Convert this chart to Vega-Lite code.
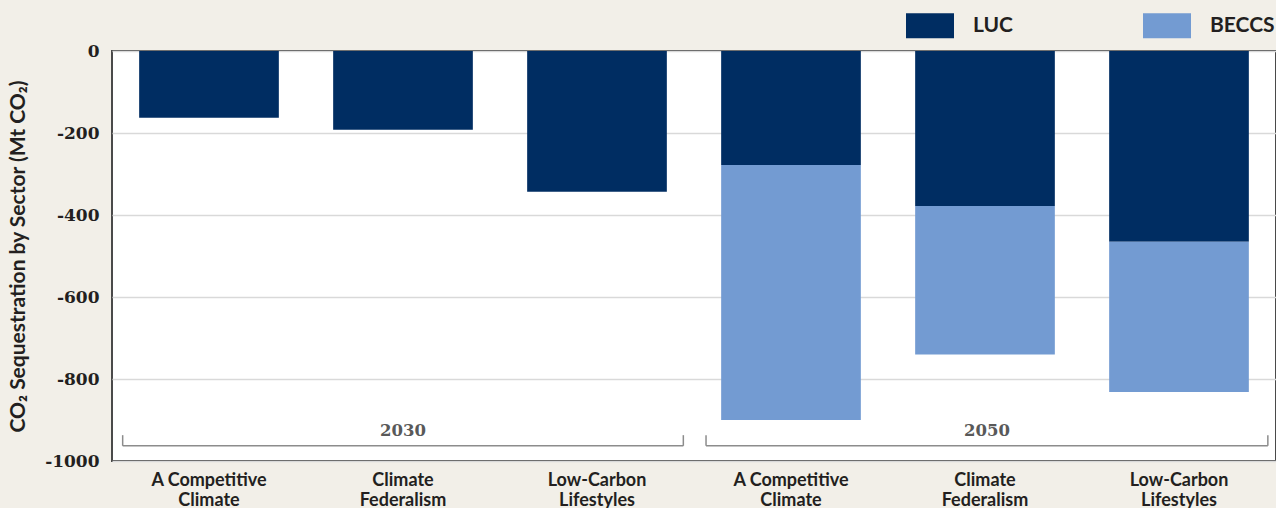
{
  "$schema": "https://vega.github.io/schema/vega-lite/v6.json",
  "autosize": "none",
  "padding": {"left": 112, "top": 51, "right": 0, "bottom": 47},
  "width": 1164,
  "height": 410,
  "background": "#f2efe8",
  "config": {
    "view": {"fill": "#ffffff", "stroke": "#4a4a4a", "strokeWidth": 2},
    "font": "Lato"
  },
  "layer": [
    {
      "data": {
        "values": [
          {"bar": "A Competitive|Climate|2030", "year": "2030", "sector": "LUC", "value": -163},
          {"bar": "Climate|Federalism|2030", "year": "2030", "sector": "LUC", "value": -192},
          {"bar": "Low-Carbon|Lifestyles|2030", "year": "2030", "sector": "LUC", "value": -343},
          {"bar": "A Competitive|Climate|2050", "year": "2050", "sector": "LUC", "value": -278},
          {"bar": "A Competitive|Climate|2050", "year": "2050", "sector": "BECCS", "value": -622},
          {"bar": "Climate|Federalism|2050", "year": "2050", "sector": "LUC", "value": -378},
          {"bar": "Climate|Federalism|2050", "year": "2050", "sector": "BECCS", "value": -362},
          {"bar": "Low-Carbon|Lifestyles|2050", "year": "2050", "sector": "LUC", "value": -465},
          {"bar": "Low-Carbon|Lifestyles|2050", "year": "2050", "sector": "BECCS", "value": -367}
        ]
      },
      "mark": {"type": "bar"},
      "encoding": {
        "x": {
          "field": "bar",
          "type": "nominal",
          "sort": null,
          "scale": {"paddingInner": 0.28, "paddingOuter": 0.14},
          "axis": {
            "title": null,
            "labelAngle": 0,
            "labelExpr": "slice(split(datum.value, '|'), 0, 2)",
            "labelFont": "Lato",
            "labelFontSize": 18,
            "labelFontWeight": "bold",
            "labelColor": "#231f20",
            "labelLineHeight": 20,
            "labelPadding": 10,
            "ticks": false,
            "domain": false
          }
        },
        "y": {
          "field": "value",
          "type": "quantitative",
          "stack": "zero",
          "scale": {"domain": [-1000, 0], "nice": false},
          "axis": {
            "values": [0, -200, -400, -600, -800, -1000],
            "labelExpr": "'' + datum.value",
            "title": "CO₂ Sequestration by Sector (Mt CO₂)",
            "titleFont": "Lato",
            "titleFontSize": 21,
            "titleFontWeight": "bold",
            "titleColor": "#231f20",
            "titlePadding": 16,
            "labelFont": "DejaVu Serif",
            "labelFontSize": 17,
            "labelFontWeight": "bold",
            "labelColor": "#231f20",
            "labelPadding": 13,
            "ticks": false,
            "domain": false,
            "grid": true,
            "gridColor": "#d9d9d9",
            "gridWidth": 1.5
          }
        },
        "color": {
          "field": "sector",
          "type": "nominal",
          "scale": {"domain": ["LUC", "BECCS"], "range": ["#002d62", "#739bd2"]},
          "legend": {
            "orient": "none",
            "legendX": 794,
            "legendY": -49.5,
            "direction": "horizontal",
            "title": null,
            "padding": 0,
            "symbolType": "M-1,-0.52H1V0.52H-1Z",
            "symbolSize": 2304,
            "symbolStrokeWidth": 0,
            "symbolOpacity": 1,
            "labelFont": "Lato",
            "labelFontSize": 21,
            "labelFontWeight": "bold",
            "labelColor": "#231f20",
            "labelOffset": 19,
            "columnPadding": 130
          }
        },
        "order": {"field": "sector", "sort": "descending"}
      }
    },
    {
      "data": {
        "values": [
          {"period": "2030", "left": 0.055, "right": 2.945, "mid": 1.5, "line": -963, "tip": -937, "label": -927},
          {"period": "2050", "left": 3.062, "right": 5.958, "mid": 4.51, "line": -963, "tip": -937, "label": -927}
        ]
      },
      "layer": [
        {
          "mark": {"type": "rule", "color": "#8c8c8c", "strokeWidth": 1.5},
          "encoding": {
            "x": {"field": "left", "type": "quantitative", "scale": {"domain": [0, 6], "nice": false, "zero": false}, "axis": null},
            "x2": {"field": "right"},
            "y": {"field": "line", "type": "quantitative"}
          }
        },
        {
          "mark": {"type": "rule", "color": "#8c8c8c", "strokeWidth": 1.5},
          "encoding": {
            "x": {"field": "left", "type": "quantitative", "scale": {"domain": [0, 6], "nice": false, "zero": false}, "axis": null},
            "y": {"field": "line", "type": "quantitative"},
            "y2": {"field": "tip"}
          }
        },
        {
          "mark": {"type": "rule", "color": "#8c8c8c", "strokeWidth": 1.5},
          "encoding": {
            "x": {"field": "right", "type": "quantitative", "scale": {"domain": [0, 6], "nice": false, "zero": false}, "axis": null},
            "y": {"field": "line", "type": "quantitative"},
            "y2": {"field": "tip"}
          }
        },
        {
          "mark": {"type": "text", "font": "DejaVu Serif", "fontSize": 16.5, "fontWeight": "bold", "color": "#595959", "baseline": "middle", "align": "center"},
          "encoding": {
            "x": {"field": "mid", "type": "quantitative", "scale": {"domain": [0, 6], "nice": false, "zero": false}, "axis": null},
            "y": {"field": "label", "type": "quantitative"},
            "text": {"field": "period"}
          }
        }
      ]
    }
  ],
  "resolve": {"scale": {"x": "independent"}}
}
